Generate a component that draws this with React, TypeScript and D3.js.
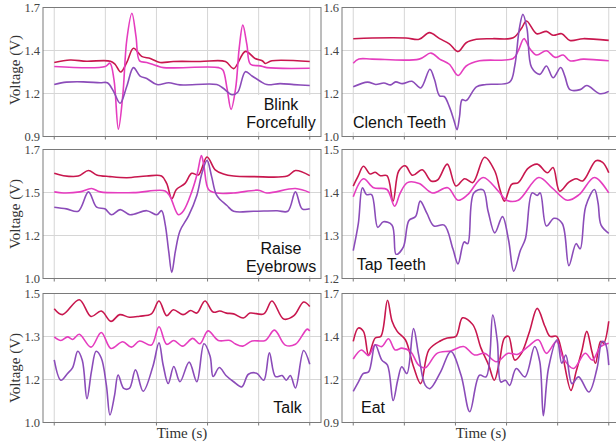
import React, { useEffect, useRef } from 'react';
import * as d3 from 'd3';

type Pt = [number, number];

const W = 616;
const H = 444;
const xTickValues = [0, 1, 2, 3, 4, 5];
const xDomain: [number, number] = [-0.22, 5.22];
const seriesColors = ['#c8174e', '#e53dbf', '#8b4cb9'];

// ---------- Blink Forcefully ----------
const blinkCrimson: Pt[] = [[0,1.359],[0.31,1.374],[0.63,1.367],[1.10,1.367],[1.19,1.348],[1.30,1.300],[1.42,1.359],[1.55,1.447],[1.71,1.397],[1.88,1.384],[2.07,1.359],[2.33,1.365],[2.86,1.365],[3.35,1.365],[3.51,1.321],[3.74,1.428],[3.93,1.384],[4.07,1.370],[4.13,1.353],[4.26,1.370],[5.0,1.365]];
const blinkPink: Pt[] = [[0,1.334],[1.0,1.334],[1.09,1.355],[1.17,1.25],[1.255,0.946],[1.34,1.15],[1.42,1.50],[1.52,1.664],[1.60,1.52],[1.67,1.369],[1.81,1.359],[2.01,1.338],[2.14,1.327],[3.22,1.327],[3.30,1.313],[3.38,1.20],[3.46,1.068],[3.55,1.20],[3.62,1.45],[3.69,1.591],[3.77,1.47],[3.84,1.348],[4.03,1.338],[4.16,1.327],[5.0,1.323]];
const blinkPurple: Pt[] = [[0,1.222],[0.24,1.237],[0.57,1.239],[0.90,1.233],[1.04,1.233],[1.16,1.180],[1.29,1.106],[1.42,1.212],[1.55,1.327],[1.68,1.275],[1.81,1.260],[2.01,1.222],[2.24,1.233],[2.46,1.220],[3.18,1.222],[3.30,1.201],[3.48,1.159],[3.59,1.174],[3.74,1.302],[3.87,1.275],[4.03,1.243],[4.16,1.222],[4.42,1.228],[4.69,1.222],[5.0,1.216]];

// ---------- Clench Teeth ----------
const clenchCrimson: Pt[] = [[0,1.455],[0.37,1.458],[1.03,1.458],[1.29,1.452],[1.49,1.483],[1.69,1.455],[1.88,1.431],[2.05,1.395],[2.21,1.436],[2.41,1.452],[2.73,1.455],[3.13,1.459],[3.29,1.502],[3.39,1.537],[3.59,1.478],[3.78,1.489],[3.91,1.471],[4.08,1.478],[4.24,1.447],[4.50,1.455],[5.0,1.447]];
const clenchPink: Pt[] = [[0,1.341],[0.11,1.360],[0.37,1.360],[1.29,1.360],[1.52,1.388],[1.69,1.360],[1.88,1.336],[2.05,1.284],[2.21,1.328],[2.47,1.352],[3.13,1.363],[3.23,1.399],[3.34,1.455],[3.46,1.407],[3.59,1.379],[3.78,1.399],[3.95,1.368],[4.11,1.379],[4.24,1.352],[4.50,1.360],[5.0,1.352]];
const clenchPurple: Pt[] = [[0,1.231],[0.28,1.253],[0.44,1.242],[0.60,1.249],[0.73,1.240],[0.83,1.254],[0.96,1.246],[1.15,1.257],[1.32,1.226],[1.50,1.313],[1.59,1.265],[1.69,1.189],[1.78,1.186],[1.88,1.139],[1.97,1.076],[2.03,1.032],[2.08,1.092],[2.13,1.171],[2.21,1.167],[2.41,1.231],[2.60,1.242],[3.06,1.253],[3.16,1.328],[3.25,1.502],[3.32,1.568],[3.40,1.502],[3.49,1.321],[3.65,1.289],[3.78,1.328],[3.91,1.273],[4.06,1.321],[4.14,1.281],[4.24,1.218],[4.44,1.218],[4.57,1.237],[4.83,1.199],[5.0,1.210]];

// ---------- Raise Eyebrows ----------
const raiseCrimson: Pt[] = [[0,1.571],[0.18,1.558],[0.47,1.556],[0.67,1.586],[0.83,1.562],[1.09,1.553],[1.42,1.547],[1.81,1.556],[2.10,1.556],[2.20,1.516],[2.30,1.433],[2.39,1.483],[2.56,1.516],[2.69,1.571],[2.82,1.562],[2.99,1.659],[3.15,1.589],[3.31,1.567],[3.51,1.556],[3.90,1.553],[4.56,1.556],[4.72,1.586],[5.0,1.558]];
const raisePink: Pt[] = [[0,1.470],[0.18,1.464],[0.50,1.470],[0.73,1.488],[0.90,1.470],[1.55,1.466],[2.17,1.475],[2.27,1.442],[2.43,1.346],[2.53,1.368],[2.69,1.470],[2.80,1.571],[2.88,1.667],[2.93,1.608],[3.02,1.483],[3.18,1.464],[3.51,1.464],[4.00,1.479],[4.16,1.464],[4.72,1.488],[5.0,1.466]];
const raisePurple: Pt[] = [[0,1.387],[0.24,1.378],[0.47,1.365],[0.67,1.470],[0.83,1.387],[0.99,1.378],[1.12,1.346],[1.29,1.374],[1.48,1.346],[1.81,1.368],[2.01,1.346],[2.10,1.368],[2.17,1.295],[2.24,1.147],[2.30,1.033],[2.37,1.147],[2.46,1.258],[2.63,1.341],[2.79,1.451],[2.89,1.571],[2.99,1.641],[3.08,1.553],[3.18,1.451],[3.38,1.396],[3.51,1.365],[3.90,1.365],[4.36,1.368],[4.57,1.365],[4.72,1.470],[4.85,1.378],[5.0,1.378]];

// ---------- Tap Teeth ----------
const tapCrimson: Pt[] = [[0,1.415],[0.10,1.439],[0.20,1.461],[0.33,1.443],[0.43,1.447],[0.53,1.439],[0.66,1.439],[0.78,1.380],[0.89,1.450],[1.02,1.462],[1.16,1.440],[1.35,1.453],[1.52,1.427],[1.65,1.429],[1.84,1.466],[2.01,1.415],[2.18,1.432],[2.34,1.423],[2.57,1.482],[2.77,1.450],[2.87,1.407],[2.96,1.380],[3.10,1.419],[3.23,1.423],[3.42,1.456],[3.60,1.466],[3.80,1.446],[3.91,1.458],[4.04,1.403],[4.22,1.424],[4.36,1.432],[4.49,1.427],[4.75,1.474],[4.88,1.470],[5.0,1.446]];
const tapPink: Pt[] = [[0,1.390],[0.20,1.432],[0.40,1.411],[0.66,1.407],[0.81,1.368],[0.92,1.399],[1.06,1.423],[1.29,1.421],[1.55,1.399],[1.85,1.411],[2.05,1.382],[2.24,1.395],[2.54,1.435],[2.84,1.403],[3.00,1.382],[3.23,1.382],[3.63,1.435],[3.89,1.411],[4.19,1.382],[4.42,1.395],[4.72,1.435],[5.0,1.399]];
const tapPurple: Pt[] = [[0,1.265],[0.10,1.328],[0.18,1.411],[0.26,1.395],[0.36,1.395],[0.48,1.319],[0.59,1.332],[0.76,1.324],[0.84,1.256],[0.98,1.273],[1.09,1.335],[1.22,1.344],[1.31,1.380],[1.44,1.352],[1.58,1.322],[1.78,1.324],[1.95,1.269],[2.05,1.234],[2.17,1.285],[2.24,1.281],[2.36,1.399],[2.54,1.406],[2.64,1.356],[2.77,1.306],[2.92,1.344],[3.04,1.289],[3.14,1.217],[3.27,1.265],[3.37,1.293],[3.50,1.399],[3.60,1.393],[3.66,1.399],[3.78,1.322],[3.93,1.340],[4.09,1.328],[4.22,1.230],[4.36,1.281],[4.44,1.269],[4.55,1.368],[4.72,1.407],[4.79,1.376],[4.85,1.324],[5.0,1.305]];

// ---------- Talk ----------
const talkCrimson: Pt[] = [[0,1.441],[0.16,1.418],[0.49,1.476],[0.72,1.411],[0.92,1.432],[1.11,1.392],[1.28,1.418],[1.47,1.408],[1.67,1.412],[1.90,1.421],[2.05,1.471],[2.20,1.414],[2.33,1.437],[2.52,1.418],[2.67,1.434],[2.79,1.424],[2.95,1.471],[3.11,1.428],[3.24,1.432],[3.37,1.424],[3.51,1.421],[3.70,1.405],[3.83,1.424],[4.10,1.421],[4.26,1.471],[4.49,1.401],[4.69,1.414],[4.88,1.467],[5.0,1.450]];
const talkPink: Pt[] = [[0,1.332],[0.13,1.318],[0.26,1.332],[0.36,1.322],[0.49,1.342],[0.72,1.292],[0.92,1.349],[1.11,1.287],[1.34,1.313],[1.51,1.292],[1.67,1.316],[1.90,1.300],[2.05,1.371],[2.20,1.303],[2.34,1.318],[2.51,1.296],[2.71,1.326],[2.85,1.305],[3.01,1.355],[3.21,1.318],[3.44,1.318],[3.54,1.305],[3.69,1.296],[3.87,1.316],[4.13,1.318],[4.31,1.358],[4.52,1.300],[4.72,1.303],[4.95,1.362],[5.0,1.355]];
const talkPurple: Pt[] = [[0,1.243],[0.13,1.164],[0.26,1.19],[0.36,1.213],[0.46,1.276],[0.55,1.24],[0.64,1.092],[0.73,1.20],[0.82,1.276],[0.92,1.25],[1.02,1.145],[1.09,1.029],[1.18,1.105],[1.25,1.184],[1.36,1.132],[1.47,1.132],[1.59,1.204],[1.74,1.121],[1.93,1.217],[2.05,1.309],[2.13,1.224],[2.23,1.151],[2.34,1.217],[2.46,1.158],[2.64,1.234],[2.79,1.158],[2.93,1.305],[3.05,1.257],[3.11,1.178],[3.23,1.213],[3.36,1.182],[3.51,1.158],[3.67,1.138],[3.80,1.187],[3.96,1.191],[4.10,1.164],[4.21,1.270],[4.33,1.178],[4.46,1.182],[4.54,1.164],[4.62,1.182],[4.72,1.134],[4.88,1.279],[5.0,1.226]];

// ---------- Eat ----------
const eatCrimson: Pt[] = [[0,1.403],[0.10,1.486],[0.20,1.465],[0.30,1.319],[0.43,1.424],[0.54,1.434],[0.67,1.658],[0.76,1.528],[0.86,1.465],[1.02,1.413],[1.18,1.246],[1.32,1.141],[1.48,1.350],[1.71,1.407],[1.84,1.424],[2.01,1.434],[2.14,1.549],[2.34,1.507],[2.50,1.361],[2.65,1.256],[2.76,1.162],[2.86,1.277],[2.96,1.424],[3.04,1.434],[3.16,1.287],[3.29,1.329],[3.45,1.465],[3.60,1.608],[3.75,1.497],[3.85,1.434],[3.98,1.434],[4.08,1.340],[4.26,1.099],[4.36,1.214],[4.47,1.340],[4.57,1.465],[4.67,1.340],[4.74,1.267],[4.84,1.403],[4.90,1.392],[5.0,1.528]];
const eatPink: Pt[] = [[0,1.294],[0.16,1.350],[0.30,1.315],[0.43,1.382],[0.56,1.371],[0.69,1.419],[0.82,1.350],[0.95,1.361],[1.12,1.340],[1.28,1.256],[1.41,1.239],[1.64,1.329],[1.91,1.344],[2.16,1.371],[2.37,1.319],[2.57,1.329],[2.80,1.277],[3.03,1.329],[3.22,1.323],[3.42,1.371],[3.62,1.413],[3.78,1.329],[3.98,1.403],[4.11,1.298],[4.31,1.235],[4.54,1.329],[4.68,1.287],[4.84,1.371],[5.0,1.392]];
const eatPurple: Pt[] = [[0,1.093],[0.10,1.151],[0.20,1.204],[0.30,1.214],[0.43,1.382],[0.56,1.287],[0.67,1.256],[0.78,1.036],[0.87,1.162],[0.95,1.246],[1.05,1.204],[1.18,1.482],[1.28,1.319],[1.41,1.130],[1.50,1.110],[1.71,1.214],[1.91,1.340],[2.11,1.193],[2.28,0.967],[2.47,1.193],[2.60,1.183],[2.73,1.566],[2.82,1.403],[2.89,1.151],[2.98,1.162],[3.06,1.130],[3.19,1.235],[3.36,1.183],[3.55,1.371],[3.65,1.277],[3.72,0.942],[3.82,1.235],[3.99,1.413],[4.08,1.267],[4.16,1.319],[4.28,1.141],[4.41,1.183],[4.61,1.089],[4.77,1.235],[4.87,1.403],[4.93,1.392],[5.0,1.256]];

const colX: [number, number][] = [[43, 321], [342, 620]];
const rowTop = [7.5, 149.5, 293.5];
const panelH = 129;
const yLabelCenters = [70, 214, 368];

type Panel = {
  col: number; row: number; yDomain: [number, number]; series: Pt[][];
  lines: string[]; tx: number; ty: number; anchor: 'start' | 'middle' | 'end';
};

const panels: Panel[] = [
  { col: 0, row: 0, yDomain: [0.9, 1.7], series: [blinkCrimson, blinkPink, blinkPurple], lines: ['Blink', 'Forcefully'], tx: 281, ty: 110, anchor: 'middle' },
  { col: 1, row: 0, yDomain: [1.0, 1.6], series: [clenchCrimson, clenchPink, clenchPurple], lines: ['Clench Teeth'], tx: 353, ty: 128.3, anchor: 'start' },
  { col: 0, row: 1, yDomain: [1.0, 1.7], series: [raiseCrimson, raisePink, raisePurple], lines: ['Raise', 'Eyebrows'], tx: 281, ty: 254.3, anchor: 'middle' },
  { col: 1, row: 1, yDomain: [1.2, 1.5], series: [tapCrimson, tapPink, tapPurple], lines: ['Tap Teeth'], tx: 356.7, ty: 270, anchor: 'start' },
  { col: 0, row: 2, yDomain: [1.0, 1.5], series: [talkCrimson, talkPink, talkPurple], lines: ['Talk'], tx: 287.5, ty: 413.3, anchor: 'middle' },
  { col: 1, row: 2, yDomain: [0.9, 1.7], series: [eatCrimson, eatPink, eatPurple], lines: ['Eat'], tx: 361, ty: 413.3, anchor: 'start' },
];

const fmt = d3.format('.1f');
const serif = '"Liberation Serif", "DejaVu Serif", serif';
const sans = '"Liberation Sans", Arial, sans-serif';

function PanelView({ p, i }: { p: Panel; i: number }) {
  const [x0, x1] = colX[p.col];
  const top = rowTop[p.row];
  const bottom = top + panelH;
  const x = d3.scaleLinear().domain(xDomain).range([x0, x1]);
  const y = d3.scaleLinear().domain(p.yDomain).range([bottom, top]);
  const yTicks = d3.range(4).map(k => p.yDomain[0] + (p.yDomain[1] - p.yDomain[0]) * k / 3);
  const line = d3.line<Pt>().x(d => x(d[0])).y(d => y(d[1])).curve(d3.curveCatmullRom.alpha(0.5));
  const clipId = `clip-${i}`;
  return (
    <g>
      <defs>
        <clipPath id={clipId}><rect x={x0} y={top} width={x1 - x0} height={panelH} /></clipPath>
      </defs>
      <rect x={x0} y={top} width={x1 - x0} height={panelH} fill="#ffffff" />
      {xTickValues.map(t => (
        <line key={'gx' + t} x1={x(t)} x2={x(t)} y1={top} y2={bottom} stroke="#d6d6d6" strokeWidth={1} />
      ))}
      {yTicks.map((v, k) => (
        <line key={'gy' + k} x1={x0} x2={x1} y1={y(v)} y2={y(v)} stroke="#d6d6d6" strokeWidth={1} />
      ))}
      <g clipPath={`url(#${clipId})`}>
        {p.series.map((s, k) => (
          <path key={k} d={line(s) || ''} fill="none" stroke={seriesColors[k]} strokeWidth={1.6} strokeLinejoin="round" />
        ))}
      </g>
      <rect x={x0} y={top} width={x1 - x0} height={panelH} fill="none" stroke="#7a7a7a" strokeWidth={1} />
      {xTickValues.map(t => (
        <line key={'tx' + t} x1={x(t)} x2={x(t)} y1={bottom} y2={bottom + 3} stroke="#7a7a7a" strokeWidth={1} />
      ))}
      {yTicks.map((v, k) => (
        <text key={'ty' + k} x={x0 - 3} y={y(v)} dy="0.35em" textAnchor="end" fontFamily={serif} fontSize={12.5} fill="#444">{fmt(v)}</text>
      ))}
      <g className="annot">
        {p.lines.map((s, k) => (
          <text key={k} x={p.tx} y={p.ty + k * 17.7} textAnchor={p.anchor} fontFamily={sans} fontSize={16} fill="#111">{s}</text>
        ))}
      </g>
    </g>
  );
}

export default function App() {
  const ref = useRef<SVGSVGElement>(null);
  useEffect(() => {
    if (!ref.current) return;
    const svg = d3.select(ref.current);
    svg.selectAll<SVGGElement, unknown>('g.annot').each(function () {
      const g = d3.select(this);
      g.selectAll('rect.bg').remove();
      const b = (this as SVGGElement).getBBox();
      g.insert('rect', ':first-child').attr('class', 'bg')
        .attr('x', b.x - 2).attr('y', b.y - 1).attr('width', b.width + 4).attr('height', b.height + 2)
        .attr('fill', '#ffffff');
    });
  }, []);
  return (
    <svg ref={ref} width={W} height={H} style={{ position: 'absolute', left: 0, top: 0, background: '#fff' }}>
      {panels.map((p, i) => <PanelView key={i} p={p} i={i} />)}
      {yLabelCenters.map((c, k) => (
        <text key={k} transform={`translate(19.5,${c}) rotate(-90)`} textAnchor="middle" fontFamily={serif} fontSize={15} fill="#333">Voltage (V)</text>
      ))}
      {colX.map(([a, b], k) => (
        <text key={k} x={(a + b) / 2} y={437.5} textAnchor="middle" fontFamily={serif} fontSize={15} fill="#333">Time (s)</text>
      ))}
    </svg>
  );
}
